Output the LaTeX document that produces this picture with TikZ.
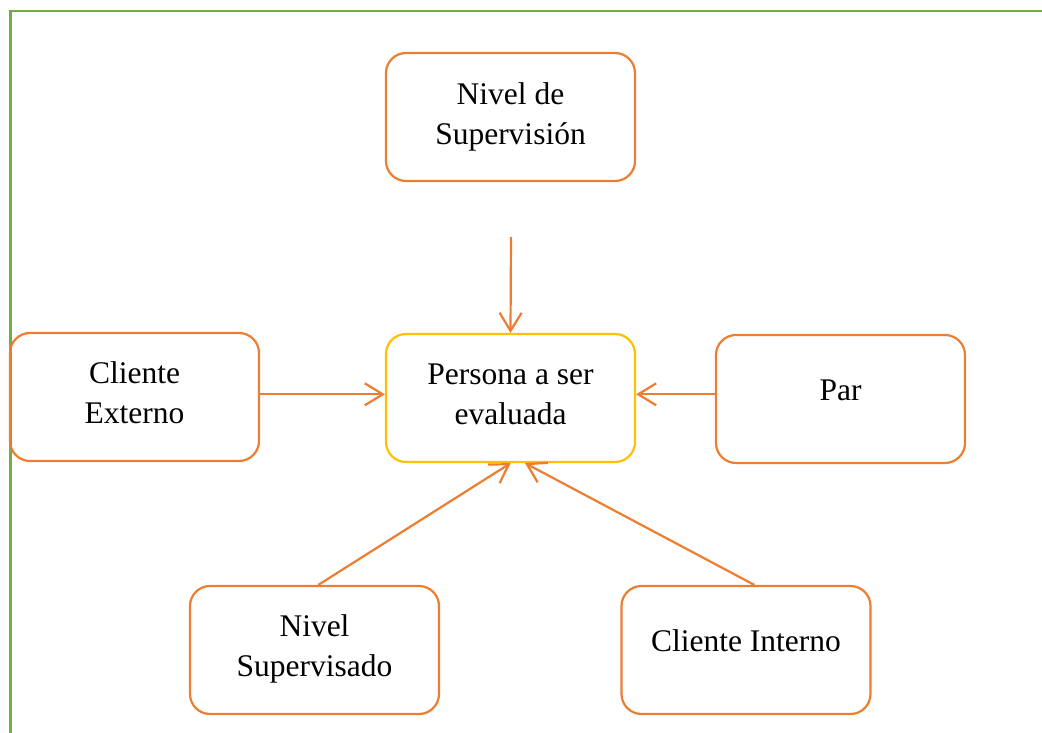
\documentclass[tikz,border=0pt]{standalone}
\usepackage{fontspec}
\setmainfont{Liberation Serif}
\usetikzlibrary{arrows.meta}
\definecolor{ograng}{HTML}{ED7D31}
\definecolor{ygold}{HTML}{FFC000}
\definecolor{gborder}{HTML}{70AD47}
\begin{document}
\begin{tikzpicture}[x=1pt,y=-1pt,
  box/.style={draw=ograng, line width=2.2pt, rounded corners=20pt, minimum width=249pt, minimum height=128pt},
  lbl/.style={align=center, inner sep=0pt, font=\fontsize{31.5}{40}\selectfont},
  conn/.style={draw=ograng, line width=2.2pt, -{Straight Barb[length=18pt,width=22pt,line width=2.2pt]}}]
\useasboundingbox (0,0) rectangle (1042,733);
\draw[gborder, line width=2.5pt] (1042,11) -- (10.5,11) -- (10.5,733);
\node[box, label={[lbl]center:Nivel de\\Supervisión}] (sup) at (510.5,117) {};
\node[box, draw=ygold, label={[lbl,yshift=4pt]center:Persona a ser\\evaluada}] (per) at (510.5,398) {};
\node[box, label={[lbl,yshift=4pt]center:Cliente\\Externo}] (ext) at (134.5,397) {};
\node[box, label={[lbl,yshift=9pt]center:Par}] (par) at (840.5,399) {};
\node[box, label={[lbl,yshift=1pt]center:Nivel\\Supervisado}] (nsu) at (314.5,650) {};
\node[box, label={[lbl,yshift=9pt]center:Cliente Interno}] (cin) at (746,650) {};
\coordinate (top) at (511,237);
\draw[conn] (top) -- (per.north);
\draw[conn] (ext.east |- 0,394.3) -- (per.west |- 0,394.3);
\draw[conn] (par.west |- 0,394.3) -- (per.east |- 0,394.3);
\draw[conn] ([xshift=3.8pt]nsu.north) -- ([xshift=0.2pt]per.south);
\draw[conn] ([xshift=8.3pt]cin.north) -- ([xshift=14.5pt]per.south);
\end{tikzpicture}
\end{document}
